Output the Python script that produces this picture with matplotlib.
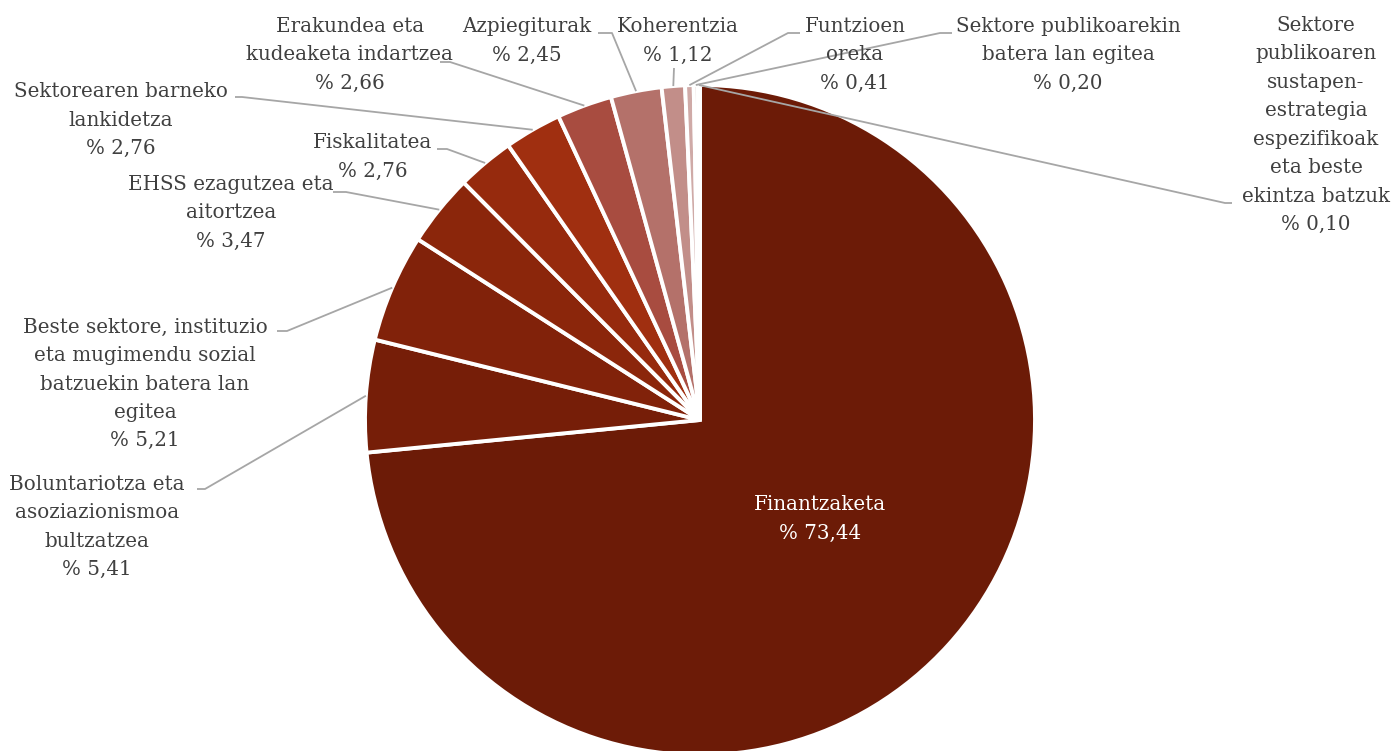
import numpy as np
import matplotlib.pyplot as plt

plt.rcParams['font.family'] = ['DejaVu Serif']

# Datuak
categories = ['Finantzaketa',
              'Boluntariotza eta\nasoziazionismoa\nbultzatzea',
              'Beste sektore, instituzio\neta mugimendu sozial\nbatzuekin batera lan\negitea',
              'EHSS ezagutzea eta\naitortzea',
              'Fiskalitatea',
              'Sektorearen barneko\nlankidetza',
              'Erakundea eta\nkudeaketa indartzea',
              'Azpiegiturak',
              'Koherentzia',
              'Funtzioen\noreka',
              'Sektore publikoarekin\nbatera lan egitea',
              'Sektore\npublikoaren\nsustapen-\nestrategia\nespezifikoak\neta beste\nekintza batzuk']
values = [73.44, 5.41, 5.21, 3.47, 2.76, 2.76, 2.66, 2.45, 1.12, 0.41, 0.20, 0.10]
value_labels = ['% 73,44', '% 5,41', '% 5,21', '% 3,47', '% 2,76', '% 2,76',
                '% 2,66', '% 2,45', '% 1,12', '% 0,41', '% 0,20', '% 0,10']
colors = ['#6C1B07', '#761E08', '#81220A', '#8B260B', '#962A0D', '#A02F10',
          '#A84C40', '#B4716A', '#C28E89', '#CFAAA7', '#DFC7C5', '#EEE3E2']

# layout (pixels, y from top): label centre, elbow points of leader line
label_pos = [(820, 519), (97, 527), (145, 384), (231, 213), (373, 157), (121, 120),
             (350, 55), (527, 41), (678, 41), (855, 55), (1068, 55), (1316, 125)]
elbows = [None, [(197, 489), (205, 489)], [(277, 331), (287, 331)],
          [(333, 192), (346, 192)], [(437, 149), (447, 149)], [(235, 97), (242, 97)],
          [(440, 62), (450, 62)], [(598, 33), (612, 33)], [(674, 68)],
          [(800, 33), (788, 33)], [(952, 33), (940, 33)], [(1232, 203), (1225, 203)]]

W, H = 1393, 751
fig = plt.figure(figsize=(W / 100, H / 100), dpi=100)
ax = fig.add_axes([0, 0, 1, 1])

cx, cy, r = 700, H - 420, 335
wedges, _ = ax.pie(values, colors=colors, startangle=90, counterclock=False,
                   center=(cx, cy), radius=r, frame=True,
                   wedgeprops=dict(edgecolor='white', linewidth=2.8))
ax.set_xlim(0, W)
ax.set_ylim(0, H)
ax.axis('off')

for i, w in enumerate(wedges):
    x, y = label_pos[i]
    txt = categories[i] + '\n' + value_labels[i]
    col = 'white' if i == 0 else '#404040'
    ax.text(x, H - y, txt, ha='center', va='center', multialignment='center',
            fontsize=14.3, color=col, linespacing=1.63)
    if elbows[i] is None:
        continue
    ang = np.deg2rad((w.theta1 + w.theta2) / 2)
    ex, ey = cx + r * np.cos(ang), cy + r * np.sin(ang)
    xs = [p[0] for p in elbows[i]] + [ex]
    ys = [H - p[1] for p in elbows[i]] + [ey]
    ax.plot(xs, ys, color='#A6A6A6', lw=1.3, solid_capstyle='butt')

fig.savefig('out.png', dpi=100)
